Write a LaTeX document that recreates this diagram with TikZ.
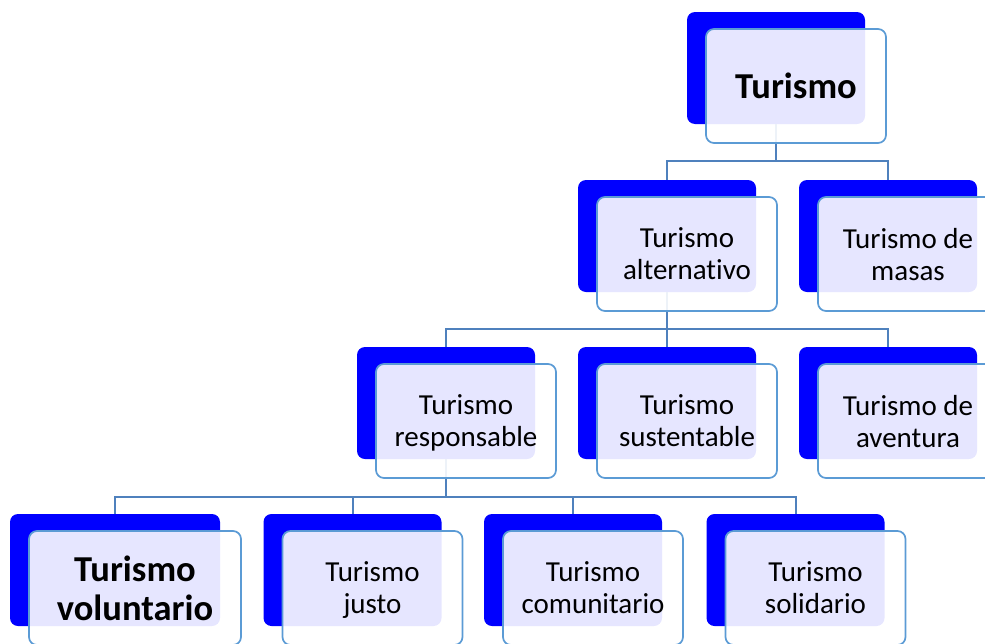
\documentclass[tikz,border=0pt]{standalone}
\usepackage{fontspec}
\setmainfont{Carlito}[Ligatures={NoCommon}]
\usepackage{tikz}
\definecolor{azul}{HTML}{0000FF}
\definecolor{borde}{RGB}{91,155,213}
\definecolor{linea}{RGB}{79,129,189}
\tikzstyle{fondo}=[rectangle, rounded corners=8pt, fill=azul, minimum width=178pt, minimum height=112pt, inner sep=0pt]
\tikzstyle{caja}=[rectangle, rounded corners=8pt, draw=borde, line width=1.7pt, fill=white, fill opacity=0.9, text opacity=1, minimum width=180pt, minimum height=114pt, inner sep=0pt, align=center, text depth=0pt, font=\fontsize{29}{32}\selectfont]
\tikzstyle{negrita}=[font=\fontsize{36.5}{39}\selectfont\bfseries]
\tikzstyle{conector}=[draw=linea, line width=2pt]

\begin{document}
\begin{tikzpicture}[x=1pt, y=-1pt]
	\useasboundingbox (0,0) rectangle (985,643);
	% cajas de fondo
	\node[fondo] (tb) at (776,68) {};
	\node[fondo] (ab) at (667,236) {};
	\node[fondo] (mb) at (888,236) {};
	\node[fondo] (rb) at (446,403) {};
	\node[fondo] (sb) at (667,403) {};
	\node[fondo] (vb) at (888,403) {};
	\node[fondo, minimum width=210pt] (ob) at (115,570) {};
	\node[fondo] (jb) at (352.5,570) {};
	\node[fondo] (cb) at (573,570) {};
	\node[fondo] (lb) at (795.5,570) {};
	% conectores
	\draw[conector] (tb.south) -- +(0,37) -| (ab.north);
	\draw[conector] (tb.south) -- +(0,37) -| (mb.north);
	\draw[conector] (ab.south) -- +(0,37) -| (rb.north);
	\draw[conector] (ab.south) -- +(0,37) -| (sb.north);
	\draw[conector] (ab.south) -- +(0,37) -| (vb.north);
	\draw[conector] (rb.south) -- +(0,38) -| (ob.north);
	\draw[conector] (rb.south) -- +(0,38) -| (jb.north);
	\draw[conector] (rb.south) -- +(0,38) -| (cb.north);
	\draw[conector] (rb.south) -- +(0,38) -| (lb.north);
	% cajas de texto
	\node[caja, negrita] (t) at ([shift={(20,18)}]tb) {Turismo};
	\node[caja] (a) at ([shift={(20,18)}]ab) {Turismo\\alternativo};
	\node[caja] (m) at ([shift={(20,18)}]mb) {Turismo de\\masas};
	\node[caja] (r) at ([shift={(20,18)}]rb) {Turismo\\responsable};
	\node[caja] (s) at ([shift={(20,18)}]sb) {Turismo\\sustentable};
	\node[caja] (v) at ([shift={(20,18)}]vb) {Turismo de\\aventura};
	\node[caja, negrita, minimum width=212pt] (o) at ([shift={(20,18)}]ob) {Turismo\\voluntario};
	\node[caja] (j) at ([shift={(20,18)}]jb) {Turismo\\justo};
	\node[caja] (c) at ([shift={(20,18)}]cb) {Turismo\\comunitario};
	\node[caja] (l) at ([shift={(20,18)}]lb) {Turismo\\solidario};
\end{tikzpicture}
\end{document}
